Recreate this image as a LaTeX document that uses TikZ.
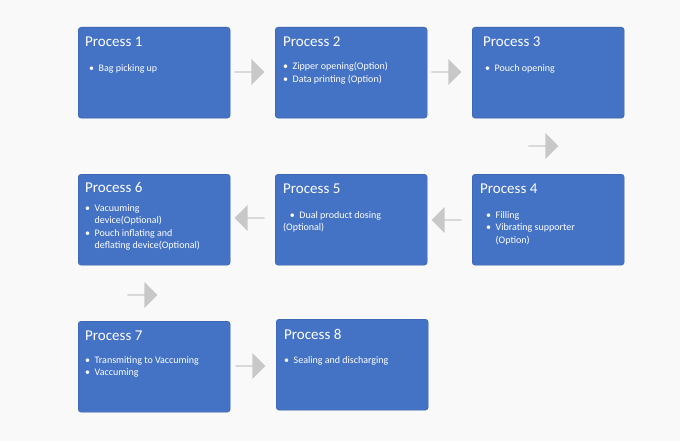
\documentclass[tikz,border=0pt]{standalone}
\usepackage{fontspec}
\setmainfont{Carlito}
\usetikzlibrary{shapes.arrows}
\definecolor{pblue}{HTML}{4472C4}
\definecolor{pgray}{HTML}{C8C8C8}
\begin{document}
\begin{tikzpicture}[x=1pt,y=-1pt,
 box/.style={draw=pblue!80!black,fill=pblue,rounded corners=3pt,minimum width=152pt,minimum height=91pt,anchor=north west,inner sep=0pt},
 ttl/.style={text=white,font=\fontsize{15}{17}\selectfont,anchor=north west,inner sep=0pt},
 txt/.style={text=white,font=\fontsize{10}{12.5}\selectfont,anchor=north west,inner sep=0pt,align=left},
 arr/.style={single arrow,fill=pgray,draw=none,minimum height=30pt,minimum width=26pt,single arrow head extend=4pt,inner sep=0pt}]
\fill[white!95!gray] (0,0) rectangle (680,441);
\useasboundingbox (0,0) rectangle (680,441);
\node[box] (b1) at (78,27) {};
\node[box] (b2) at (275,27) {};
\node[box] (b3) at (472,27) {};
\node[box] (b4) at (472,174) {};
\node[box] (b5) at (275,174) {};
\node[box] (b6) at (78,174) {};
\node[box] (b7) at (78,321) {};
\node[box] (b8) at (276,319) {};
\node[ttl] (t1) at (85,37) {Process 1};
\node[ttl] (t2) at (283,37) {Process 2};
\node[ttl] (t3) at (483,37) {Process 3};
\node[ttl] (t4) at (480,184) {Process 4};
\node[ttl] (t5) at (283,184) {Process 5};
\node[ttl] (t6) at (85,182) {Process 6};
\node[ttl] (t7) at (85,331) {Process 7};
\node[ttl] (t8) at (284,329) {Process 8};
\node[txt] (x1) at (89,64) {•\ \ Bag picking up};
\node[txt] (x2) at (283,62) {•\ \ Zipper opening(Option)\\•\ \ Data printing (Option)};
\node[txt] (x3) at (485,64) {•\ \ Pouch opening};
\node[txt] (x4) at (486,211) {•\ \ Filling\\•\ \ Vibrating supporter\\\phantom{•\ \ }(Option)};
\node[txt] (x5) at (283,211) {\ \ \ •\ \ Dual product dosing\\(Optional)};
\node[txt] (x6) at (85,204) {•\ \ Vacuuming\\\phantom{•\ \ }device(Optional)\\•\ \ Pouch inflating and\\\phantom{•\ \ }deflating device(Optional)};
\node[txt] (x7) at (85,356) {•\ \ Transmiting to Vaccuming\\•\ \ Vaccuming};
\node[txt] (x8) at (284,356) {•\ \ Sealing and discharging};
\node[arr] (a1) at (249,72) {};
\node[arr] (a2) at (446,72) {};
\node[arr,shape border rotate=-90] (a3) at (543,146) {};
\node[arr,shape border rotate=180] (a4) at (447,220) {};
\node[arr,shape border rotate=180] (a5) at (250,218) {};
\node[arr,shape border rotate=-90] (a6) at (142,295) {};
\node[arr] (a7) at (250,366) {};
\end{tikzpicture}
\end{document}
